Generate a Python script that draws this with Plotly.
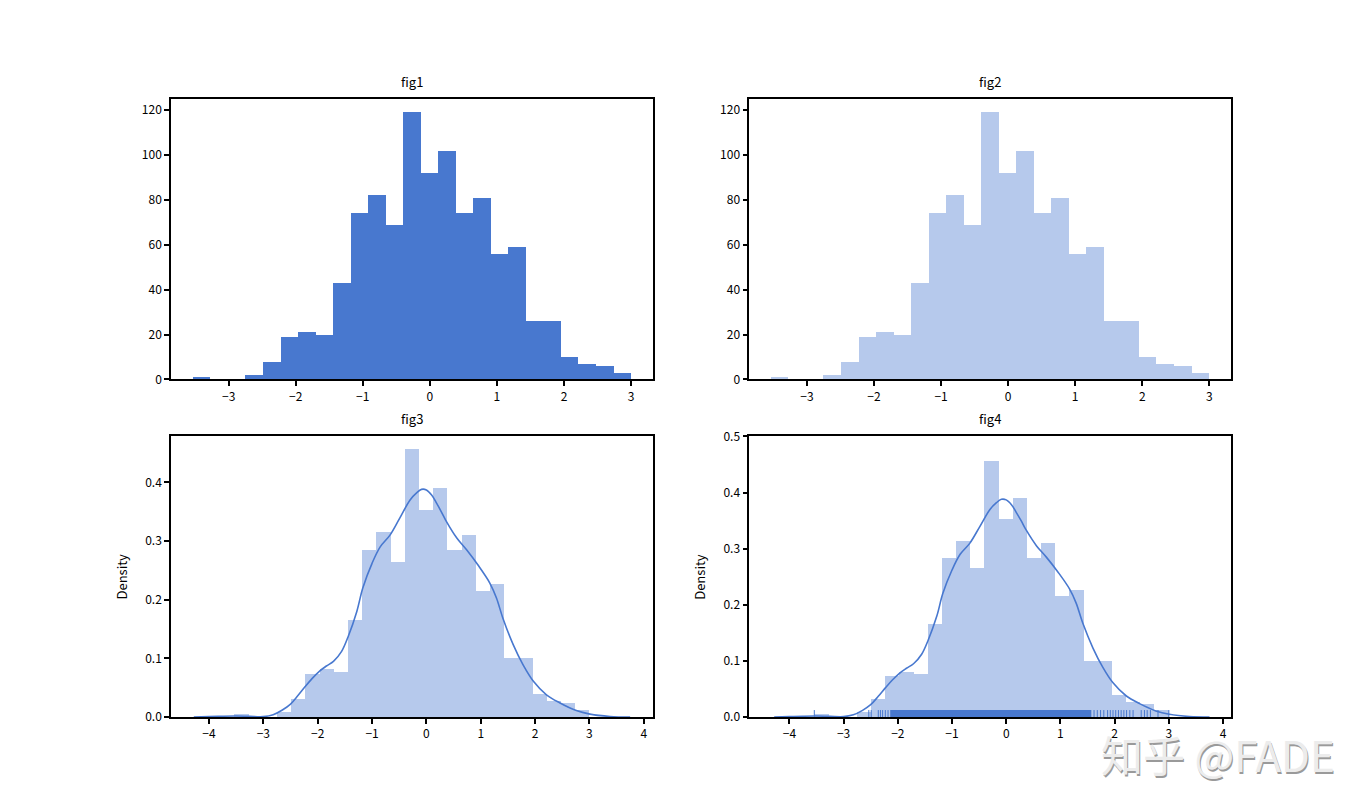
import numpy as np
import plotly.graph_objects as go

# ---------------- data ----------------
bin_min = -3.533
bin_max = 3.0
counts = [1, 0, 0, 2, 8, 19, 21, 20, 43, 74, 82, 69, 119, 92, 102, 74, 81, 56, 59, 26, 26, 10, 7, 6, 3]

kde_x = [-4.28, -4.0, -3.75, -3.5, -3.25, -3.0, -2.82, -2.65, -2.5, -2.36, -2.23, -2.1, -1.97, -1.84, -1.71,
         -1.56, -1.44, -1.28, -1.17, -1.0, -0.85, -0.67, -0.49, -0.30, -0.18, -0.09, 0.0, 0.10, 0.19, 0.28,
         0.37, 0.56, 0.74, 0.95, 1.17, 1.29, 1.41, 1.60, 1.78, 1.97, 2.21, 2.46, 2.76, 3.01, 3.38, 3.75]
kde_y = [0.0, 0.0008, 0.0015, 0.0018, 0.0012, 0.0008, 0.004, 0.012, 0.022, 0.037, 0.052, 0.066, 0.078, 0.087, 0.095,
         0.112, 0.137, 0.180, 0.220, 0.262, 0.290, 0.310, 0.339, 0.370, 0.382, 0.388, 0.387, 0.378, 0.364, 0.349,
         0.333, 0.305, 0.285, 0.259, 0.228, 0.203, 0.168, 0.123, 0.089, 0.061, 0.038, 0.024, 0.011, 0.005, 0.001, 0.0]

rug_sparse = [-3.54, -2.535, -2.49, -2.36, -2.32, -2.28, -2.23, -2.18,
              1.62, 1.68, 1.74, 1.80, 1.87, 1.92, 1.97, 2.02, 2.07, 2.12, 2.17, 2.22, 2.28, 2.34,
              2.49, 2.55, 2.60, 2.66, 2.80, 3.0]
rug_dense_span = [-2.14, 1.57]
rug_height = 0.0125

titles = ["fig1", "fig2", "fig3", "fig4"]
ylabel = "Density"
watermark = "知乎 @FADE"

# ---------------- derived ----------------
nb = len(counts)
edges = np.linspace(bin_min, bin_max, nb + 1)
width = edges[1] - edges[0]
centers = (edges[:-1] + edges[1:]) / 2
total = sum(counts)
density = [c / (total * width) for c in counts]

BLUE = "#4878CF"
LIGHT = "rgba(72,120,207,0.4)"
FONT = "Noto Sans CJK SC, DejaVu Sans, sans-serif"

fig = go.Figure()

fig.add_trace(go.Bar(x=centers, y=counts, width=width, marker=dict(color=BLUE, line=dict(width=0)),
                     xaxis="x", yaxis="y", showlegend=False))
fig.add_trace(go.Bar(x=centers, y=counts, width=width, marker=dict(color=LIGHT, line=dict(width=0)),
                     xaxis="x2", yaxis="y2", showlegend=False))
for ax in ["3", "4"]:
    fig.add_trace(go.Bar(x=centers, y=density, width=width, marker=dict(color=LIGHT, line=dict(width=0)),
                         xaxis="x" + ax, yaxis="y" + ax, showlegend=False))

# rug (fig4)
rx, ry = [], []
for v in rug_sparse:
    rx += [v, v, None]
    ry += [0, rug_height, None]
fig.add_trace(go.Scatter(x=rx, y=ry, mode="lines", line=dict(color=BLUE, width=1),
                         xaxis="x4", yaxis="y4", showlegend=False, hoverinfo="skip"))
fig.add_trace(go.Scatter(x=[rug_dense_span[0], rug_dense_span[1], rug_dense_span[1], rug_dense_span[0], rug_dense_span[0]],
                         y=[0, 0, rug_height, rug_height, 0], mode="lines", fill="toself",
                         fillcolor=BLUE, line=dict(color=BLUE, width=0),
                         xaxis="x4", yaxis="y4", showlegend=False, hoverinfo="skip"))

for ax in ["3", "4"]:
    fig.add_trace(go.Scatter(x=kde_x, y=kde_y, mode="lines", line=dict(color=BLUE, width=1.6, shape="spline"),
                             xaxis="x" + ax, yaxis="y" + ax, showlegend=False))

def axstyle(**kw):
    d = dict(showline=True, linecolor="black", linewidth=1.5, mirror=True, ticks="outside",
             ticklen=5, tickwidth=1.5, tickcolor="black", showgrid=False, zeroline=False,
             tickfont=dict(size=12, family=FONT, color="black"))
    d.update(kw)
    return d

cx = [[0.125, 0.4773], [0.5477, 0.9]]
ry_dom = [[0.5311, 0.8872], [0.1027, 0.4588]]

lo = bin_min - 0.05 * (bin_max - bin_min)
hi = bin_max + 0.05 * (bin_max - bin_min)
ymax1 = max(counts) * 1.05
ymax3 = max(density) * 1.05

fig.update_layout(
    width=1368, height=805, margin=dict(l=0, r=0, t=0, b=0),
    paper_bgcolor="white", plot_bgcolor="white", bargap=0,
    font=dict(family=FONT, color="black"),
    xaxis=axstyle(domain=cx[0], anchor="y", range=[lo, hi], tickvals=[-3, -2, -1, 0, 1, 2, 3]),
    yaxis=axstyle(domain=ry_dom[0], anchor="x", range=[0, ymax1], tickvals=[0, 20, 40, 60, 80, 100, 120]),
    xaxis2=axstyle(domain=cx[1], anchor="y2", range=[lo, hi], tickvals=[-3, -2, -1, 0, 1, 2, 3]),
    yaxis2=axstyle(domain=ry_dom[0], anchor="x2", range=[0, ymax1], tickvals=[0, 20, 40, 60, 80, 100, 120]),
    xaxis3=axstyle(domain=cx[0], anchor="y3", range=[-4.70, 4.17], tickvals=[-4, -3, -2, -1, 0, 1, 2, 3, 4]),
    yaxis3=axstyle(domain=ry_dom[1], anchor="x3", range=[0, ymax3], tickvals=[0, 0.1, 0.2, 0.3, 0.4], tickformat=".1f"),
    xaxis4=axstyle(domain=cx[1], anchor="y4", range=[-4.74, 4.15], tickvals=[-4, -3, -2, -1, 0, 1, 2, 3, 4]),
    yaxis4=axstyle(domain=ry_dom[1], anchor="x4", range=[0, 0.5], tickvals=[0, 0.1, 0.2, 0.3, 0.4, 0.5], tickformat=".1f"),
)

ann = []
pos = [(cx[0], ry_dom[0]), (cx[1], ry_dom[0]), (cx[0], ry_dom[1]), (cx[1], ry_dom[1])]
for t, (xd, yd) in zip(titles, pos):
    ann.append(dict(text=t, x=(xd[0] + xd[1]) / 2, y=yd[1], xref="paper", yref="paper",
                    xanchor="center", yanchor="bottom", yshift=6, showarrow=False,
                    font=dict(size=13, family=FONT, color="black")))
for xp in [0.089, 0.5117]:
    ann.append(dict(text=ylabel, x=xp, y=(ry_dom[1][0] + ry_dom[1][1]) / 2, xref="paper", yref="paper",
                    xanchor="center", yanchor="middle", textangle=-90, showarrow=False,
                    font=dict(size=13, family=FONT, color="black")))
# watermark
ann.append(dict(text=watermark, x=0.890, y=0.056, xref="paper", yref="paper", xanchor="center", yanchor="middle",
                xshift=1.5, yshift=-1.5, showarrow=False, font=dict(size=42, family=FONT, color="#9a9a9a")))
ann.append(dict(text=watermark, x=0.890, y=0.056, xref="paper", yref="paper", xanchor="center", yanchor="middle",
                showarrow=False, font=dict(size=42, family=FONT, color="#ececec")))
fig.update_layout(annotations=ann)

fig.write_html("out.html")
